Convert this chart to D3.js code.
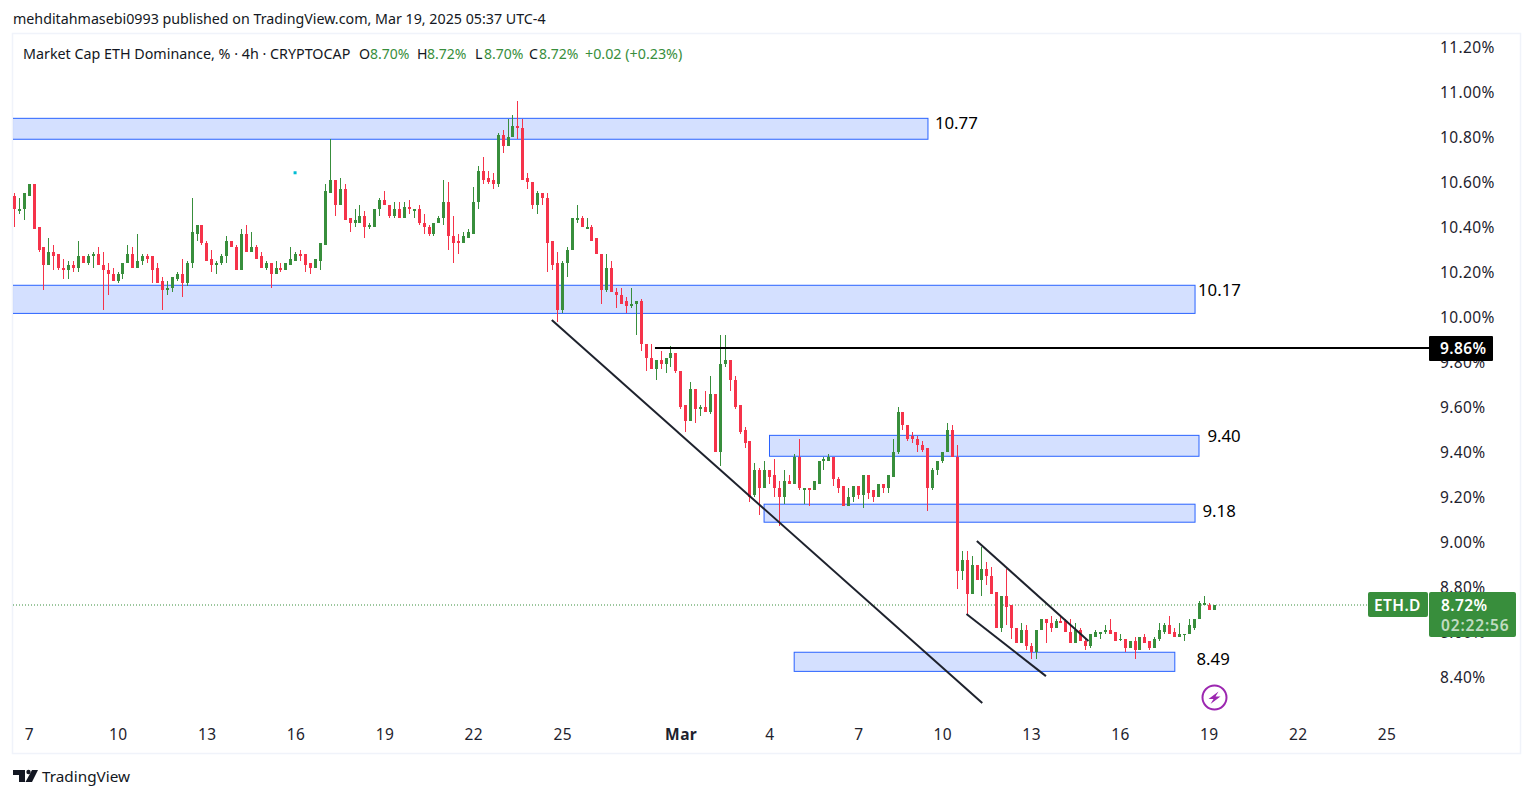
<!DOCTYPE html>
<html>
<head>
<meta charset="utf-8">
<title>ETH.D</title>
<script src="https://cdnjs.cloudflare.com/ajax/libs/d3/7.8.5/d3.min.js"></script>
<style>
    html, body { margin: 0; background: #fff; }
    svg { display: block; }
    text { font-family: "Noto Sans", "Open Sans", sans-serif; fill: #131722; }
    .axis text { font-size: 15.5px; letter-spacing: 0.4px; fill: #1e222d; }
</style>
</head>
<body>
<svg id="chart"></svg>
<script>
// 4h candles, Feb 7 to Mar 19 2025 (% dominance)
const opens = [
    10.54,10.47,10.48,10.54,10.59,10.40,10.31,10.23,10.29,10.28,
    10.22,10.21,10.23,10.22,10.27,10.24,10.27,10.28,10.23,10.21,
    10.19,10.16,10.19,10.24,10.28,10.22,10.25,10.27,10.27,10.22,
    10.16,10.12,10.13,10.17,10.19,10.15,10.24,10.37,10.41,10.33,
    10.26,10.23,10.24,10.27,10.34,10.31,10.21,10.37,10.29,10.31,
    10.27,10.22,10.24,10.19,10.22,10.21,10.23,10.25,10.28,10.28,
    10.24,10.22,10.25,10.32,10.55,10.61,10.50,10.57,10.44,10.42,
    10.42,10.45,10.40,10.40,10.48,10.52,10.50,10.45,10.48,10.44,
    10.49,10.47,10.48,10.42,10.40,10.37,10.42,10.44,10.51,10.36,
    10.34,10.33,10.35,10.37,10.51,10.65,10.62,10.61,10.59,10.81,
    10.76,10.80,10.85,10.84,10.62,10.60,10.50,10.55,10.53,10.34,
    10.24,10.03,10.24,10.30,10.43,10.44,10.39,10.40,10.35,10.28,
    10.12,10.22,10.11,10.10,10.07,10.05,10.06,10.07,9.88,9.82,
    9.77,9.81,9.79,9.82,9.84,9.76,9.61,9.54,9.68,9.59,
    9.60,9.58,9.66,9.40,9.79,9.81,9.72,9.61,9.50,9.45,
    9.21,9.32,9.24,9.32,9.30,9.24,9.20,9.27,9.26,9.38,
    9.23,9.24,9.23,9.26,9.36,9.36,9.38,9.28,9.25,9.16,
    9.20,9.25,9.21,9.30,9.23,9.20,9.26,9.24,9.29,9.40,
    9.58,9.52,9.47,9.46,9.43,9.42,9.24,9.32,9.36,9.40,
    9.50,9.38,8.87,8.92,8.77,8.90,8.83,8.88,8.85,8.78,
    8.62,8.76,8.72,8.62,8.55,8.61,8.54,8.51,8.61,8.66,
    8.64,8.62,8.65,8.65,8.60,8.55,8.61,8.56,8.54,8.58,
    8.59,8.60,8.61,8.60,8.57,8.57,8.53,8.56,8.52,8.58,
    8.56,8.53,8.57,8.60,8.63,8.60,8.58,8.59,8.59,8.62,
    8.66,8.72,8.72,8.70
];
const closes = [
    10.48,10.48,10.55,10.59,10.39,10.30,10.23,10.29,10.27,10.22,
    10.21,10.23,10.22,10.27,10.24,10.27,10.28,10.23,10.21,10.19,
    10.16,10.19,10.24,10.28,10.22,10.25,10.27,10.26,10.21,10.15,
    10.12,10.13,10.18,10.19,10.15,10.24,10.38,10.41,10.33,10.25,
    10.23,10.24,10.27,10.34,10.31,10.21,10.37,10.29,10.31,10.26,
    10.22,10.24,10.19,10.22,10.21,10.24,10.26,10.28,10.27,10.23,
    10.22,10.26,10.33,10.56,10.61,10.50,10.57,10.43,10.42,10.43,
    10.45,10.40,10.41,10.48,10.52,10.50,10.45,10.48,10.44,10.49,
    10.48,10.48,10.42,10.40,10.37,10.42,10.44,10.51,10.36,10.33,
    10.33,10.36,10.38,10.51,10.65,10.61,10.60,10.59,10.81,10.76,
    10.80,10.85,10.84,10.61,10.60,10.50,10.55,10.53,10.33,10.23,
    10.03,10.24,10.30,10.44,10.44,10.40,10.40,10.34,10.28,10.12,
    10.22,10.11,10.10,10.06,10.05,10.06,10.07,9.88,9.82,9.77,
    9.81,9.79,9.82,9.84,9.76,9.60,9.54,9.68,9.59,9.60,
    9.58,9.66,9.40,9.79,9.81,9.72,9.60,9.49,9.44,9.20,
    9.32,9.24,9.32,9.29,9.24,9.20,9.27,9.26,9.38,9.24,
    9.24,9.23,9.27,9.36,9.37,9.38,9.28,9.24,9.16,9.20,
    9.25,9.21,9.30,9.22,9.20,9.26,9.24,9.30,9.40,9.58,
    9.52,9.46,9.46,9.43,9.41,9.24,9.32,9.36,9.40,9.50,
    9.38,8.87,8.92,8.77,8.90,8.83,8.88,8.85,8.77,8.62,
    8.76,8.71,8.62,8.55,8.61,8.54,8.51,8.61,8.66,8.64,
    8.62,8.65,8.64,8.60,8.55,8.61,8.56,8.54,8.59,8.60,
    8.60,8.61,8.59,8.56,8.57,8.53,8.56,8.52,8.58,8.55,
    8.53,8.57,8.61,8.63,8.59,8.58,8.59,8.59,8.63,8.66,
    8.73,8.73,8.70,8.72
];
const highs = [
    10.55,10.53,10.55,10.59,10.59,10.40,10.31,10.35,10.32,10.28,
    10.26,10.25,10.25,10.34,10.27,10.28,10.29,10.31,10.29,10.24,
    10.22,10.20,10.24,10.32,10.31,10.37,10.28,10.28,10.27,10.24,
    10.18,10.16,10.18,10.20,10.26,10.25,10.53,10.41,10.41,10.34,
    10.30,10.25,10.28,10.36,10.34,10.32,10.39,10.41,10.38,10.32,
    10.29,10.25,10.24,10.25,10.24,10.24,10.31,10.29,10.30,10.28,
    10.24,10.26,10.33,10.59,10.79,10.61,10.62,10.59,10.44,10.48,
    10.50,10.47,10.42,10.48,10.53,10.56,10.50,10.51,10.51,10.51,
    10.52,10.48,10.50,10.46,10.41,10.42,10.45,10.61,10.60,10.45,
    10.37,10.38,10.39,10.58,10.67,10.71,10.65,10.64,10.82,10.83,
    10.88,10.90,10.96,10.88,10.64,10.60,10.56,10.55,10.55,10.34,
    10.29,10.25,10.31,10.44,10.50,10.45,10.44,10.41,10.35,10.28,
    10.28,10.25,10.13,10.13,10.09,10.13,10.07,10.08,9.88,9.88,
    9.81,9.85,9.82,9.87,9.84,9.76,9.61,9.71,9.68,9.61,
    9.67,9.74,9.66,9.92,9.92,9.81,9.74,9.61,9.51,9.45,
    9.35,9.33,9.36,9.32,9.37,9.27,9.32,9.30,9.39,9.46,
    9.24,9.24,9.27,9.36,9.38,9.39,9.38,9.29,9.25,9.24,
    9.25,9.25,9.30,9.30,9.23,9.26,9.26,9.30,9.46,9.60,
    9.58,9.52,9.49,9.47,9.45,9.42,9.33,9.36,9.40,9.53,
    9.52,9.43,8.96,8.96,8.94,8.90,8.98,8.91,8.89,8.78,
    8.76,8.88,8.72,8.62,8.64,8.63,8.55,8.61,8.66,8.66,
    8.67,8.66,8.67,8.66,8.66,8.64,8.62,8.57,8.59,8.61,
    8.60,8.63,8.66,8.60,8.59,8.57,8.56,8.58,8.58,8.59,
    8.56,8.58,8.64,8.64,8.67,8.62,8.64,8.59,8.66,8.66,
    8.74,8.76,8.73,8.72
];
const lows = [
    10.40,10.46,10.43,10.54,10.39,10.29,10.12,10.23,10.21,10.21,
    10.17,10.17,10.20,10.20,10.24,10.23,10.22,10.23,10.03,10.10,
    10.16,10.15,10.17,10.24,10.22,10.22,10.23,10.24,10.15,10.15,
    10.03,10.10,10.11,10.16,10.09,10.14,10.22,10.34,10.32,10.25,
    10.20,10.19,10.23,10.24,10.31,10.21,10.21,10.29,10.29,10.26,
    10.22,10.21,10.13,10.19,10.20,10.21,10.23,10.25,10.25,10.20,
    10.19,10.22,10.21,10.32,10.55,10.45,10.50,10.43,10.38,10.40,
    10.42,10.35,10.39,10.40,10.45,10.50,10.44,10.44,10.44,10.44,
    10.46,10.44,10.41,10.37,10.36,10.36,10.42,10.41,10.30,10.24,
    10.28,10.33,10.35,10.37,10.48,10.59,10.59,10.57,10.58,10.73,
    10.76,10.80,10.79,10.61,10.57,10.48,10.46,10.50,10.20,10.21,
    9.98,10.02,10.18,10.30,10.42,10.40,10.39,10.34,10.28,10.06,
    10.11,10.11,10.04,10.06,10.02,10.04,9.92,9.85,9.76,9.77,
    9.72,9.77,9.75,9.78,9.75,9.59,9.49,9.54,9.53,9.56,
    9.58,9.57,9.40,9.34,9.78,9.67,9.59,9.48,9.42,9.18,
    9.20,9.12,9.24,9.26,9.20,9.07,9.17,9.26,9.26,9.23,
    9.17,9.16,9.23,9.26,9.32,9.36,9.25,9.22,9.16,9.16,
    9.18,9.19,9.15,9.19,9.18,9.20,9.22,9.22,9.29,9.39,
    9.50,9.45,9.44,9.40,9.40,9.14,9.23,9.30,9.35,9.40,
    9.38,8.79,8.83,8.68,8.77,8.83,8.76,8.81,8.77,8.62,
    8.60,8.63,8.57,8.55,8.55,8.52,8.48,8.48,8.61,8.55,
    8.60,8.62,8.64,8.60,8.55,8.55,8.56,8.52,8.53,8.58,
    8.57,8.59,8.59,8.56,8.56,8.51,8.53,8.48,8.52,8.55,
    8.52,8.53,8.56,8.59,8.59,8.58,8.58,8.56,8.59,8.61,
    8.66,8.72,8.70,8.70
];

const priceTicks = [11.2, 11, 10.8, 10.6, 10.4, 10.2, 10, 9.8, 9.6, 9.4, 9.2, 9, 8.8, 8.6, 8.4];
const timeTicks = [3, 21, 39, 57, 75, 93, 111, 135, 153, 171, 188, 206, 224, 242, 260, 278];
const timeLabels = ["7", "10", "13", "16", "19", "22", "25", "Mar", "4", "7", "10", "13", "16", "19", "22", "25"];

// drawn zones, x as candle index
const zoneStart = [-1, -1, 152.9, 151.8, 157.9];
const zoneEnd = [185, 239.1, 239.9, 239.1, 235];
const zoneTop = [10.883, 10.141, 9.474, 9.168, 8.51];
const zoneBottom = [10.79, 10.016, 9.381, 9.088, 8.425];
const zoneLabels = ["10.77", "10.17", "9.40", "9.18", "8.49"];
const zoneLabelIdx = [186.4, 239.7, 241.6, 240.6, 239.4];
const zoneLabelVal = [10.862, 10.12, 9.471, 9.138, 8.48];

// trend lines
const trendIdx = [[108.8, 196], [194.9, 217.5], [192.8, 208.9]];
const trendVal = [[9.987, 8.284], [9.004, 8.56], [8.68, 8.404]];

const levelPrice = 9.86;
const levelIdx = [129.7, 286.7];
const lastPrice = 8.72;

const width = 1533, height = 798;
const green = "#388e3c", red = "#f5334a", zoneBlue = "#2962ff";
const pane = {left: 13, top: 34, right: 1520, bottom: 753};

let scale = {
    x: d3.scaleLinear().domain([0, 243]).range([14.67, 1214.3]),
    y: d3.scaleLinear().domain([11, 8.4]).range([92, 677]),
};

const candles = opens.map((o, i) => ({i, o, c: closes[i], h: highs[i], l: lows[i]}));
const barX = i => Math.floor(scale.x(i) - 0.3);

let svg = d3.select("#chart").attr("width", width).attr("height", height).attr("viewBox", `0 0 ${width} ${height}`);

svg.append("text").attr("x", 13).attr("y", 24).attr("font-size", 14.25)
    .text("mehditahmasebi0993 published on TradingView.com, Mar 19, 2025 05:37 UTC-4");

svg.append("rect")
    .attr("x", pane.left - 0.5).attr("y", pane.top - 0.5)
    .attr("width", pane.right - pane.left + 1).attr("height", pane.bottom - pane.top + 1)
    .attr("fill", "none").attr("stroke", "#f0f3fa").attr("stroke-width", 1.5);

svg.append("clipPath").attr("id", "pane").append("rect")
    .attr("x", pane.left).attr("y", pane.top).attr("width", pane.right - pane.left).attr("height", pane.bottom - pane.top);

let plot = svg.append("g").attr("clip-path", "url(#pane)");

// last price dotted line
plot.append("line")
    .attr("x1", pane.left).attr("x2", 1368)
    .attr("y1", scale.y(lastPrice)).attr("y2", scale.y(lastPrice))
    .attr("stroke", green).attr("stroke-width", 1).attr("stroke-dasharray", "1 2");

// zones under the candles
plot.selectAll("rect.zone").data(zoneTop).join("rect")
    .attr("class", "zone")
    .attr("x", (d, i) => scale.x(zoneStart[i]))
    .attr("y", d => scale.y(d))
    .attr("width", (d, i) => scale.x(zoneEnd[i]) - scale.x(zoneStart[i]))
    .attr("height", (d, i) => scale.y(zoneBottom[i]) - scale.y(d))
    .attr("fill", zoneBlue).attr("fill-opacity", 0.2)
    .attr("stroke", zoneBlue).attr("stroke-width", 1);

let marks = plot.append("g").attr("shape-rendering", "crispEdges");

marks.selectAll("rect.wick").data(candles).join("rect")
    .attr("class", "wick")
    .attr("x", d => barX(d.i))
    .attr("width", 1)
    .attr("y", d => scale.y(d.h))
    .attr("height", d => scale.y(d.l) - scale.y(d.h))
    .attr("fill", d => d.c >= d.o ? green : red);

marks.selectAll("rect.body").data(candles).join("rect")
    .attr("class", "body")
    .attr("x", d => barX(d.i) - 1)
    .attr("width", 3)
    .attr("y", d => scale.y(Math.max(d.o, d.c)))
    .attr("height", d => Math.max(1, Math.abs(scale.y(d.o) - scale.y(d.c))))
    .attr("fill", d => d.c >= d.o ? green : red);

// small cyan drawing dot
plot.append("rect")
    .attr("x", scale.x(56.8) - 1.5).attr("y", scale.y(10.641) - 1.5)
    .attr("width", 3).attr("height", 3).attr("fill", "#00bcd4");

plot.selectAll("line.trend").data(trendIdx).join("line")
    .attr("class", "trend")
    .attr("x1", d => scale.x(d[0]))
    .attr("x2", d => scale.x(d[1]))
    .attr("y1", (d, i) => scale.y(trendVal[i][0]))
    .attr("y2", (d, i) => scale.y(trendVal[i][1]))
    .attr("stroke", "#1e222d").attr("stroke-width", 2);

plot.append("line")
    .attr("x1", scale.x(levelIdx[0])).attr("x2", scale.x(levelIdx[1]))
    .attr("y1", Math.floor(scale.y(levelPrice))).attr("y2", Math.floor(scale.y(levelPrice)))
    .attr("stroke", "#000").attr("stroke-width", 2);

svg.selectAll("text.zoneLabel").data(zoneLabels).join("text")
    .attr("class", "zoneLabel")
    .attr("x", (d, i) => scale.x(zoneLabelIdx[i]))
    .attr("y", (d, i) => scale.y(zoneLabelVal[i]))
    .attr("dy", "0.35em")
    .attr("font-size", 16.8)
    .style("fill", "#000")
    .text(d => d);

// axes
let axisY = d3.axisRight(scale.y).tickValues(priceTicks).tickSize(0).tickPadding(0)
    .tickFormat(d => d3.format(".2f")(d) + "%");
let gy = svg.append("g").attr("class", "axis").attr("transform", "translate(1440,1)").call(axisY);
gy.select(".domain").remove();

let axisX = d3.axisBottom(scale.x).tickValues(timeTicks).tickSize(0).tickPadding(0)
    .tickFormat((d, i) => timeLabels[i]);
let gx = svg.append("g").attr("class", "axis").attr("transform", "translate(-0.5,728.5)").call(axisX);
gx.select(".domain").remove();
gx.selectAll("text").style("font-weight", (d, i) => timeLabels[i] === "Mar" ? 700 : null);

// legend line
const legendParts = [
    {x: 23, t: "Market Cap ETH Dominance, % \u00b7 4h \u00b7 CRYPTOCAP", c: "#131722", s: 14.3},
    {x: 359, t: "O", c: "#131722", s: 14.2}, {x: 370, t: "8.70%", c: green, s: 14},
    {x: 417, t: "H", c: "#131722", s: 14.2}, {x: 427, t: "8.72%", c: green, s: 14},
    {x: 475, t: "L", c: "#131722", s: 14.2}, {x: 484, t: "8.70%", c: green, s: 14},
    {x: 529, t: "C", c: "#131722", s: 14.2}, {x: 539, t: "8.72%", c: green, s: 14},
    {x: 585, t: "+0.02 (+0.23%)", c: green, s: 14.3}
];
svg.selectAll("text.legend").data(legendParts).join("text")
    .attr("class", "legend")
    .attr("x", d => d.x).attr("y", 59)
    .attr("font-size", d => d.s)
    .style("fill", d => d.c)
    .text(d => d.t);

// price tags
const tagFont = sel => sel.attr("dy", "0.36em").attr("font-size", 15.5).attr("font-weight", 600)
    .style("letter-spacing", "0.4px").style("fill", "#fff");

svg.append("rect").attr("x", 1429).attr("y", 336).attr("width", 64).attr("height", 25).attr("rx", 1).attr("fill", "#000");
svg.append("text").attr("x", 1440).attr("y", scale.y(levelPrice)).call(tagFont).text("9.86%");

svg.append("rect").attr("x", 1368).attr("y", 592).attr("width", 60).attr("height", 25).attr("rx", 2).attr("fill", green);
svg.append("text").attr("x", 1374).attr("y", scale.y(lastPrice)).call(tagFont).text("ETH.D");
svg.append("rect").attr("x", 1429).attr("y", 592).attr("width", 87).attr("height", 45).attr("rx", 2).attr("fill", green);
svg.append("text").attr("x", 1441).attr("y", scale.y(lastPrice)).call(tagFont).text("8.72%");
svg.append("text").attr("x", 1441).attr("y", 625).call(tagFont).style("letter-spacing", "0.85px").style("fill-opacity", 0.7).text("02:22:56");

// lightning badge
let badge = svg.append("g").attr("transform", "translate(1214.5,697.5)");
badge.append("circle").attr("r", 12).attr("fill", "#fff").attr("stroke", "#9c27b0").attr("stroke-width", 2);
badge.append("path").attr("d", "M4,-6 L-6,1.5 L-1,1.5 L-4,6.5 L6,-1 L1,-1 Z").attr("fill", "#9c27b0");

// logo
let logo = svg.append("g").attr("fill", "#131722");
logo.append("path").attr("d", "M13,770 H25 V782 H19 V775 H13 Z");
logo.append("circle").attr("cx", 28.5).attr("cy", 772).attr("r", 2.2);
logo.append("path").attr("d", "M32,770 H38 L32,782 H25.5 Z");
svg.append("text").attr("x", 42).attr("y", 782).attr("font-size", 15.3).text("TradingView");
</script>
</body>
</html>
